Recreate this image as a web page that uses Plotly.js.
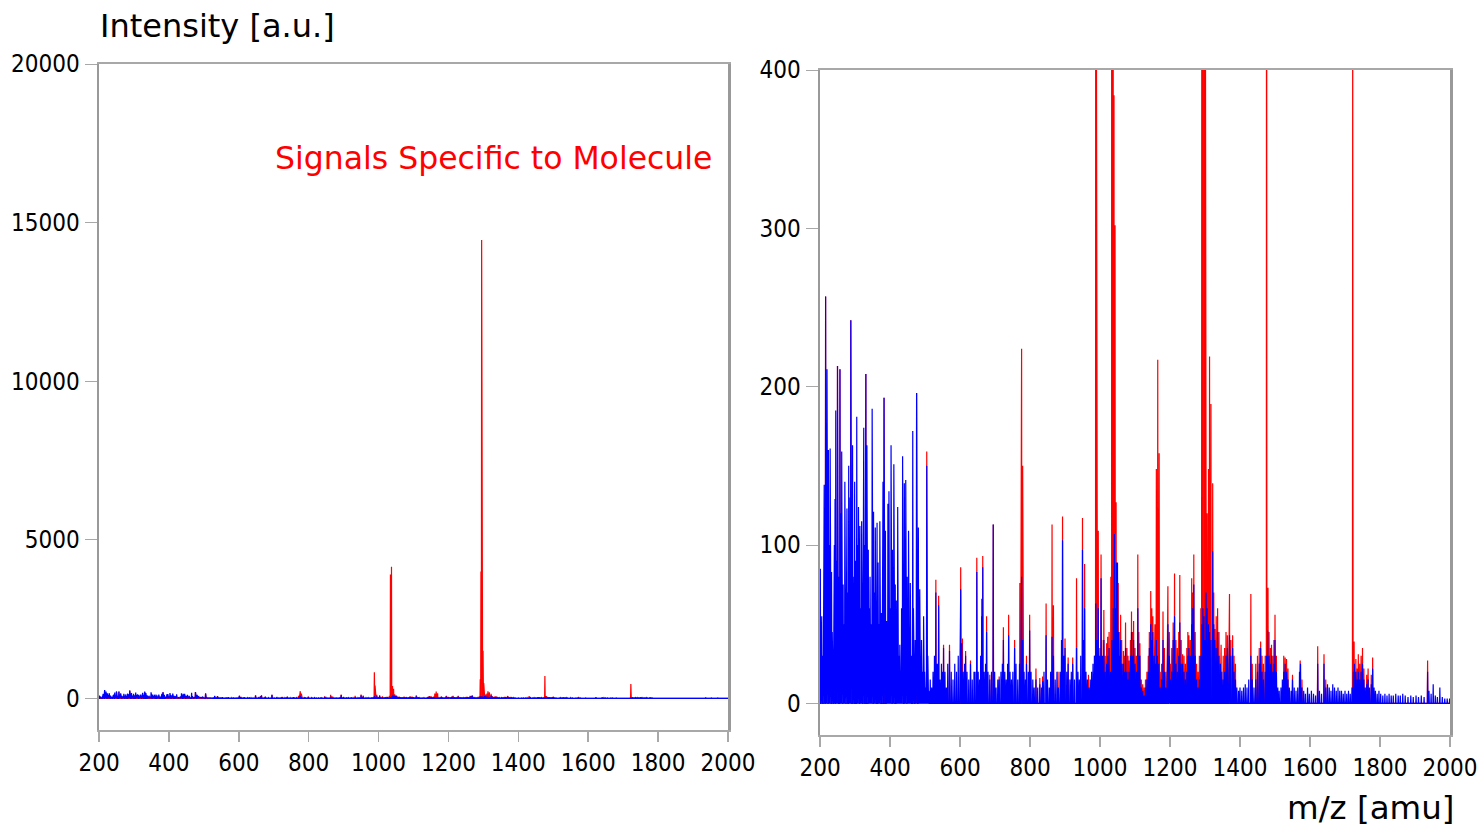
<!DOCTYPE html>
<html>
<head>
<meta charset="utf-8">
<script src="https://cdn.plot.ly/plotly-3.0.1.min.js"></script>
<style>html,body{margin:0;padding:0;background:#fff;}#chart{width:1484px;height:830px;}</style>
</head>
<body>
<div id="chart"></div>
<script>
// ---- Data ----
// Reference (blue) spectrum: m/z positions and intensities
const blueMz = [201,203,205,207,210,212,214,216,218,220,222,224,226,229,231,233,235,237,239,241,243,245,247,250,252,254,257,259,262,264,266,268,271,273,275,277,279,282,284,286,288,290,293,295,297,299,302,305,307,310,312,314,316,319,321,323,325,327,329,331,334,336,338,340,343,346,349,351,353,355,358,360,363,366,368,371,373,375,378,380,383,385,387,390,392,394,397,400,403,405,407,409,411,413,415,418,420,422,425,428,431,433,436,438,441,443,445,447,449,451,453,456,458,461,465,467,469,472,474,476,478,481,483,485,488,490,493,496,499,502,505,508,511,515,519,523,527,531,535,539,543,547,550,553,557,561,565,570,575,580,585,590,595,600,602,605,609,613,616,620,625,630,635,640,643,648,652,656,659,662,665,669,673,676,680,685,690,695,699,703,708,712,717,721,724,728,732,736,739,743,747,751,756,760,765,770,774,776,779,783,787,790,795,799,803,808,812,817,822,828,833,836,840,846,850,855,859,863,867,872,877,881,886,890,893,897,900,905,909,914,918,922,927,933,937,941,945,950,953,956,960,964,968,972,976,980,984,988,991,995,999,1003,1007,1011,1015,1019,1022,1026,1030,1034,1038,1041,1044,1047,1050,1053,1056,1059,1063,1067,1070,1073,1077,1080,1083,1087,1090,1093,1096,1100,1104,1108,1111,1114,1118,1122,1126,1130,1134,1138,1141,1145,1148,1151,1155,1158,1161,1164,1168,1172,1176,1180,1184,1188,1192,1194,1198,1201,1205,1209,1213,1217,1221,1225,1228,1232,1236,1240,1244,1248,1251,1254,1258,1262,1265,1268,1272,1276,1280,1284,1288,1291,1294,1297,1300,1303,1306,1310,1313,1317,1322,1325,1328,1332,1336,1340,1344,1348,1352,1356,1360,1364,1368,1370,1374,1379,1383,1387,1391,1396,1400,1405,1410,1415,1420,1425,1431,1435,1440,1445,1450,1455,1459,1463,1467,1472,1476,1479,1483,1487,1490,1494,1497,1500,1504,1508,1512,1517,1521,1525,1529,1533,1537,1541,1546,1550,1555,1560,1565,1570,1573,1577,1582,1587,1593,1598,1604,1610,1616,1622,1627,1633,1640,1645,1650,1655,1660,1665,1670,1675,1680,1685,1690,1695,1700,1705,1710,1715,1720,1724,1727,1731,1735,1738,1742,1746,1750,1754,1758,1762,1766,1770,1775,1779,1783,1787,1792,1797,1802,1808,1814,1820,1826,1832,1838,1845,1852,1858,1865,1872,1880,1888,1895,1903,1910,1918,1926,1936,1940,1946,1952,1958,1964,1971,1978,1985,1992,1999];
const blueInt = [85,40,55,30,70,138,95,257,150,211,120,160,100,161,60,83,45,30,60,100,129,185,90,213,110,80,211,120,159,70,75,50,140,80,60,123,70,150,90,130,242,150,163,80,60,140,90,181,100,124,70,112,60,115,80,50,174,100,180,208,163,90,97,60,80,50,186,90,121,70,111,60,114,89,50,115,60,57,40,140,193,70,109,52,40,126,134,60,163,80,97,50,151,60,75,65,40,124,30,37,20,60,156,80,139,60,141,50,80,40,109,40,76,30,172,60,54,40,20,196,80,111,40,72,30,40,20,55,20,10,150,30,8,15,10,20,30,70,25,62,15,25,20,35,20,10,25,33,20,15,25,20,30,25,72,38,20,25,30,20,15,25,15,20,20,83,20,15,30,55,86,20,25,45,20,15,20,113,20,10,15,15,20,25,40,20,15,25,43,20,15,20,35,25,15,25,60,80,40,20,15,25,20,46,20,15,10,15,10,12,10,14,20,43,15,10,20,42,30,15,20,10,20,40,103,30,35,20,25,15,20,25,15,35,20,15,30,97,40,60,20,15,10,15,20,25,30,63,40,60,30,79,30,40,20,25,30,35,20,40,60,107,60,89,89,45,30,40,25,25,20,35,20,15,20,30,45,30,40,25,20,60,30,30,10,8,5,10,15,20,35,50,40,45,30,25,40,30,25,10,15,40,20,10,20,50,30,15,20,40,55,25,20,30,51,25,25,20,15,20,30,35,30,50,60,75,30,15,10,15,30,50,60,55,40,70,60,50,45,40,96,50,40,35,45,30,25,20,15,20,30,35,30,43,30,35,20,15,10,8,10,8,10,12,10,15,30,15,10,15,20,25,35,20,15,20,30,46,30,25,30,20,25,40,20,10,8,10,15,20,25,20,15,10,8,15,10,8,10,20,25,10,8,6,10,6,8,6,5,25,8,6,25,10,12,10,8,12,10,8,10,8,8,6,8,6,8,6,10,20,25,20,15,20,15,20,25,15,10,12,15,10,12,22,10,8,6,8,6,5,6,5,6,5,5,6,5,5,6,5,4,5,4,5,4,5,4,20,8,6,12,5,4,10,4,3,3,3];

// Sample (red) spectrum: m/z positions and intensities
const redMz = [216,250,257,288,331,383,476,505,531,539,553,570,602,607,616,630,648,662,665,676,685,695,712,724,739,756,771,774,776,779,781,790,799,817,828,836,846,863,867,880,893,900,909,922,933,950,956,967,985,988,990,992,995,1000,1003,1005,1011,1015,1019,1022,1026,1031,1034,1037,1040,1043,1046,1049,1052,1055,1059,1062,1067,1070,1073,1077,1080,1083,1087,1090,1093,1096,1100,1104,1108,1111,1114,1118,1122,1126,1130,1134,1138,1141,1145,1148,1151,1155,1157,1161,1165,1169,1172,1176,1180,1184,1188,1192,1194,1198,1201,1205,1209,1213,1217,1221,1225,1228,1232,1236,1240,1244,1248,1251,1254,1258,1262,1265,1268,1272,1276,1280,1284,1288,1291,1293,1295,1297,1299,1301,1303,1306,1310,1313,1317,1322,1325,1328,1332,1336,1340,1344,1346,1352,1356,1360,1364,1368,1370,1374,1379,1383,1387,1431,1435,1445,1450,1455,1459,1463,1467,1472,1476,1480,1483,1487,1490,1494,1497,1500,1504,1525,1529,1533,1537,1550,1570,1572,1577,1622,1640,1645,1722,1724,1726,1731,1735,1738,1742,1746,1750,1754,1762,1766,1775,1779,1936];
const redInt = [257,213,211,242,208,193,196,159,78,68,37,37,86,41,33,27,92,66,93,55,18,113,17,48,56,40,76,103,224,150,107,30,56,22,16,17,63,113,62,20,118,41,29,29,79,117,88,18,30,820,400,241,109,35,94,40,59,30,38,42,45,80,3900,4150,384,302,127,50,76,45,56,40,33,30,51,35,30,27,40,58,45,52,35,30,94,45,38,15,12,10,15,20,30,45,71,60,55,45,50,148,217,158,20,25,58,35,20,30,74,45,25,35,51,82,40,35,45,81,40,31,30,25,35,45,43,40,79,70,94,45,25,20,30,60,600,4000,14450,13700,1500,480,100,120,148,219,189,139,70,47,55,60,45,35,37,30,35,45,43,45,69,40,43,30,25,69,25,25,30,35,39,30,25,30,700,73,45,35,37,30,40,56,30,30,29,28,22,18,25,27,15,36,31,15,450,30,39,28,22,31,25,30,35,22,18,22,18,29,27];

const xTicks = [200,400,600,800,1000,1200,1400,1600,1800,2000];

// ---- Build profile (stick) lines from the peak lists ----
function profile(mz, inten) {
  const pts = mz.map((m, i) => [m, inten[i]]).sort((a, b) => a[0] - b[0]);
  const xs = [200], ys = [0];
  const hw = 0.8;
  for (const [m, h] of pts) { xs.push(m - hw, m, m + hw); ys.push(0, h, 0); }
  xs.push(2000); ys.push(0);
  return {x: xs, y: ys};
}
const red = profile(redMz, redInt);
const blue = profile(blueMz, blueInt);

const FONT = '"DejaVu Sans Condensed", "Liberation Sans", sans-serif';
const TFONT = '"DejaVu Sans", "Liberation Sans", sans-serif';
const RED = '#ff0000', BLUE = '#0000ff';

const traces = [
  {x: red.x, y: red.y, xaxis: 'x', yaxis: 'y', type: 'scatter', mode: 'lines', line: {color: RED, width: 1.2}, hoverinfo: 'skip', showlegend: false},
  {x: blue.x, y: blue.y, xaxis: 'x', yaxis: 'y', type: 'scatter', mode: 'lines', line: {color: BLUE, width: 1.2}, hoverinfo: 'skip', showlegend: false},
  {x: red.x, y: red.y, xaxis: 'x2', yaxis: 'y2', type: 'scatter', mode: 'lines', line: {color: RED, width: 1.2}, hoverinfo: 'skip', showlegend: false},
  {x: blue.x, y: blue.y, xaxis: 'x2', yaxis: 'y2', type: 'scatter', mode: 'lines', line: {color: BLUE, width: 1.2}, hoverinfo: 'skip', showlegend: false}
];

const W = 1484, H = 830;
const px = v => v / W, py = v => 1 - v / H;

const xCommon = {
  range: [200, 2000], tickvals: xTicks, ticks: 'outside', ticklen: 10, tickwidth: 1.5, tickcolor: '#a8a8a8',
  showline: true, linecolor: '#a8a8a8', linewidth: 2, mirror: true, showgrid: false, zeroline: false,
  tickfont: {family: FONT, size: 24, color: '#000'}, fixedrange: true
};
const yCommon = {
  ticks: 'outside', ticklen: 12, tickwidth: 1, tickcolor: '#a8a8a8',
  showline: true, linecolor: '#999999', linewidth: 2.5, mirror: true, showgrid: false, zeroline: false,
  tickfont: {family: FONT, size: 24, color: '#000'}, tickformat: 'd', fixedrange: true
};

const layout = {
  width: W, height: H,
  margin: {l: 0, r: 0, t: 0, b: 0},
  paper_bgcolor: '#fff', plot_bgcolor: '#fff',
  showlegend: false,
  xaxis: Object.assign({}, xCommon, {domain: [px(99), px(728)], anchor: 'y'}),
  yaxis: Object.assign({}, yCommon, {domain: [py(730), py(64)], range: [-1000, 20000], tickvals: [0, 5000, 10000, 15000, 20000], anchor: 'x'}),
  xaxis2: Object.assign({}, xCommon, {domain: [px(820), px(1450)], anchor: 'y2'}),
  yaxis2: Object.assign({}, yCommon, {domain: [py(735), py(70)], range: [-20, 400], tickvals: [0, 100, 200, 300, 400], anchor: 'x2'}),
  annotations: [
    {text: 'Intensity [a.u.]', xref: 'paper', yref: 'paper', x: px(98), y: py(26), xanchor: 'left', yanchor: 'middle', showarrow: false, font: {family: TFONT, size: 32, color: '#000'}},
    {text: 'Signals Specific to Molecule', xref: 'paper', yref: 'paper', x: px(714), y: py(158), xanchor: 'right', yanchor: 'middle', showarrow: false, font: {family: TFONT, size: 31.5, color: RED}},
    {text: 'm/z [amu]', xref: 'paper', yref: 'paper', x: px(1457), y: py(808), xanchor: 'right', yanchor: 'middle', showarrow: false, font: {family: TFONT, size: 32.5, color: '#000'}}
  ]
};

Plotly.newPlot('chart', traces, layout, {staticPlot: true, displayModeBar: false});
</script>
</body>
</html>
